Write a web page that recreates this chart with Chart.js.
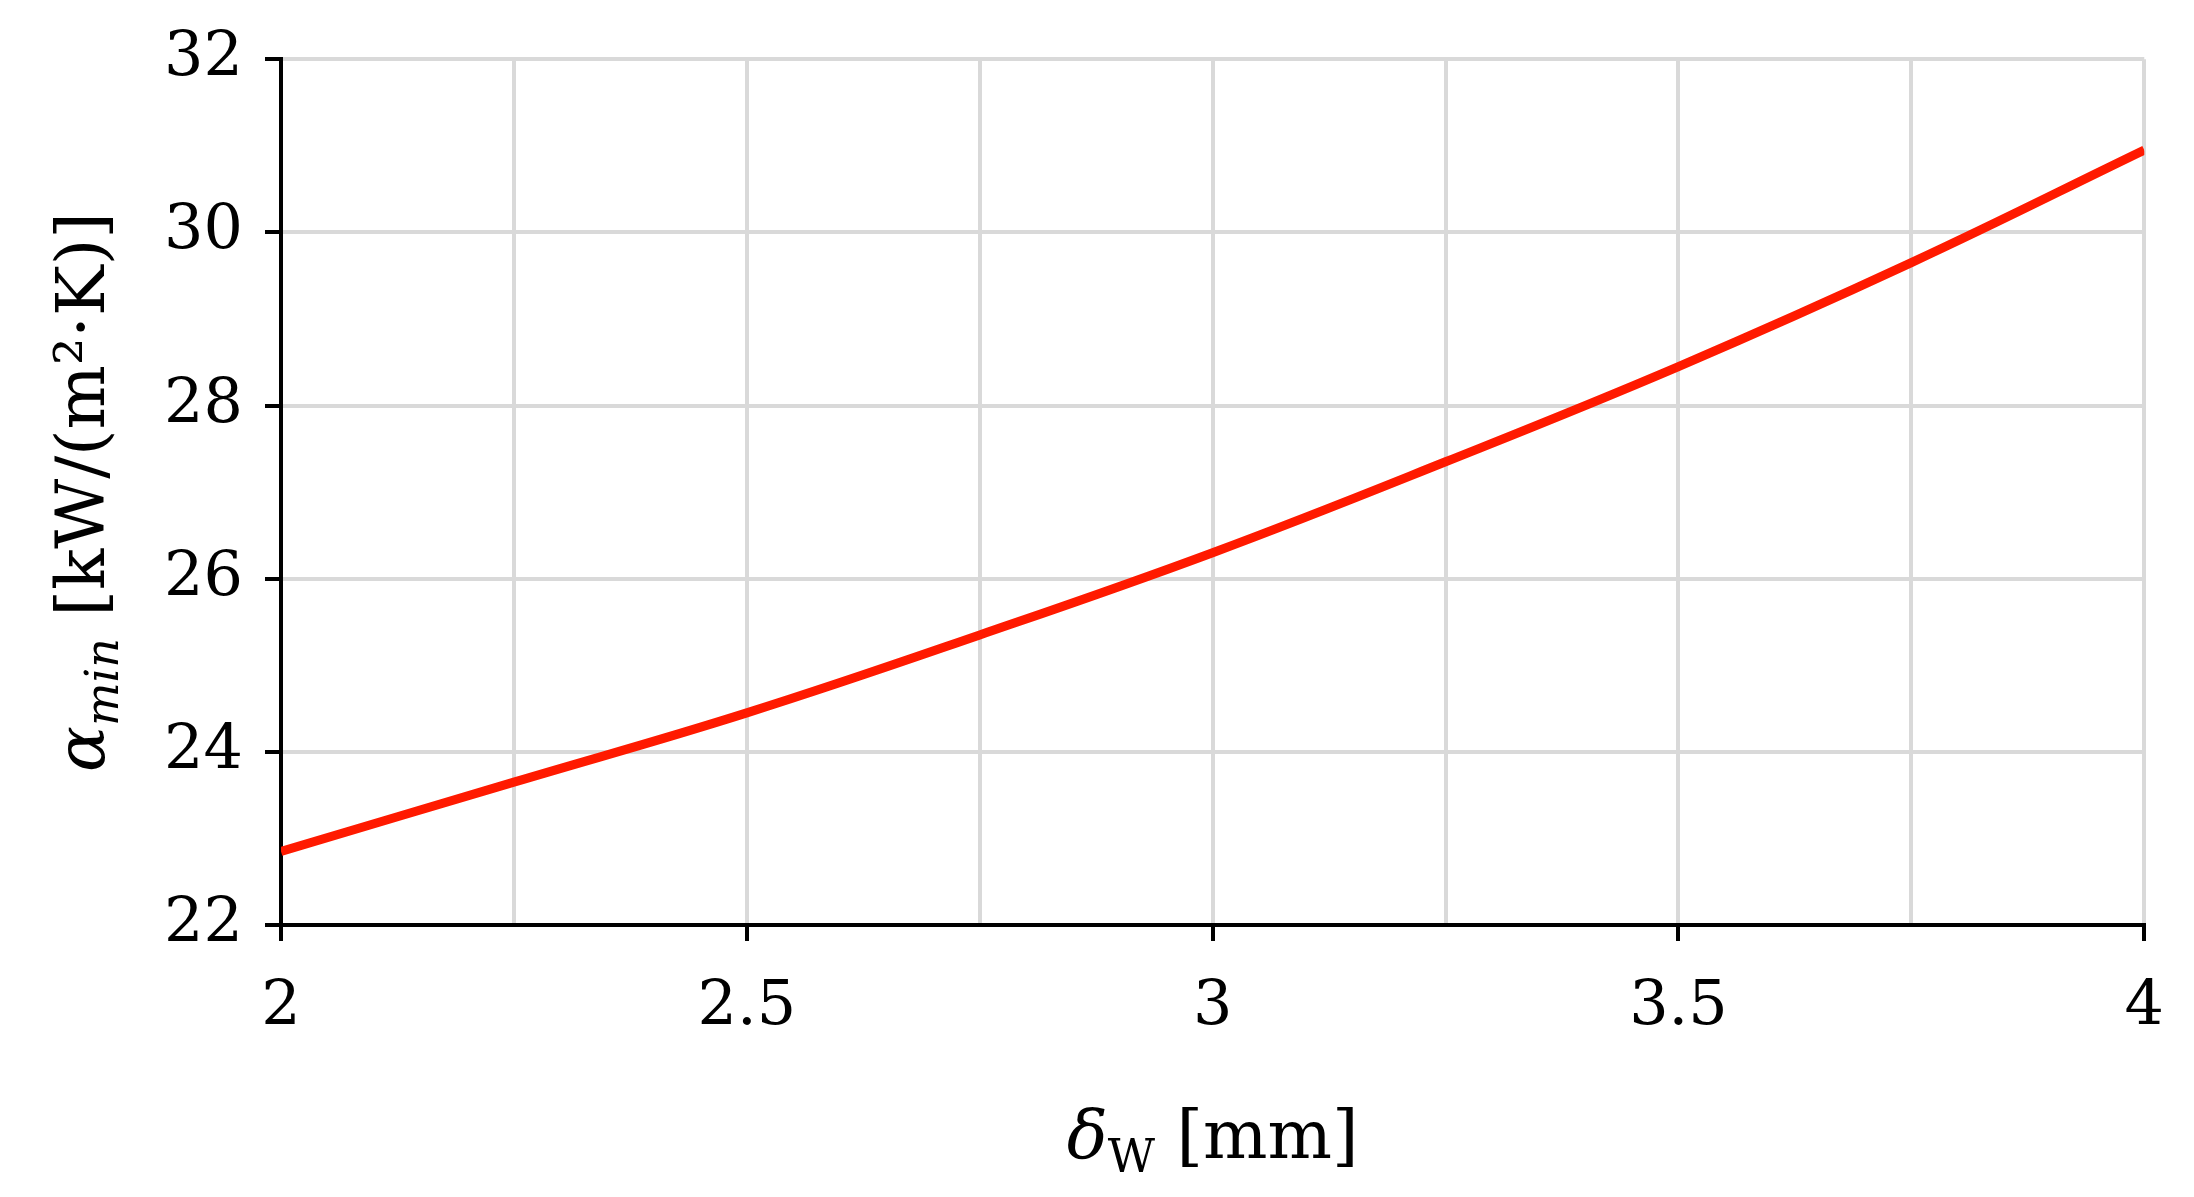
<!DOCTYPE html>
<html>
<head>
<meta charset="utf-8">
<script src="https://cdn.jsdelivr.net/npm/chart.js@4/dist/chart.umd.min.js"></script>
<style>
  html, body { margin: 0; padding: 0; background: #fff; }
  #wrap { width: 2194px; height: 1197px; }
</style>
</head>
<body>
<div id="wrap"><canvas id="c"></canvas></div>
<script>
// wall thickness [mm] vs minimum heat transfer coefficient [kW/(m2K)]
const thickness = [2, 2.25, 2.5, 2.75, 3, 3.25, 3.5, 3.75, 4];
const alphaMin = [22.85, 23.65, 24.45, 25.35, 26.3, 27.35, 28.45, 29.65, 30.95];
const xTicks = [2, 2.5, 3, 3.5, 4];

const FONT = '"DejaVu Serif", "Liberation Serif", serif';

// axis titles with italic/upright subscripts
const titles = {
    id: 'titles',
    afterDraw(chart) {
        const c = chart.ctx;
        const a = chart.chartArea;
        c.save();
        c.fillStyle = '#000';
        c.textBaseline = 'alphabetic';

        // x title: δW [mm]
        const xm = (a.left + a.right) / 2;
        const parts = [
            { t: 'δ', f: 'italic 68px ' + FONT, dy: 0 },
            { t: 'W', f: '46px ' + FONT, dy: 14 },
            { t: ' [mm]', f: '68px ' + FONT, dy: 0 }
        ];
        let w = 0;
        parts.forEach(p => { c.font = p.f; w += c.measureText(p.t).width; });
        let x = xm - w / 2;
        const y = 1158;
        parts.forEach(p => { c.font = p.f; c.fillText(p.t, x, y + p.dy); x += c.measureText(p.t).width; });

        // y title: αmin [kW/(m²·K)]
        const ym = (a.top + a.bottom) / 2;
        c.translate(84, ym);
        c.rotate(-Math.PI / 2);
        const yp = [
            { t: 'α', f: 'italic 68px ' + FONT, dy: 0 },
            { t: 'min', f: 'italic 46px ' + FONT, dy: 14 },
            { t: ' [kW/(m²·K)]', f: '68px ' + FONT, dy: 0 }
        ];
        w = 0;
        yp.forEach(p => { c.font = p.f; w += c.measureText(p.t).width; });
        x = -w / 2;
        yp.forEach(p => { c.font = p.f; c.fillText(p.t, x, 20 + p.dy); x += c.measureText(p.t).width; });
        c.restore();
    }
};

new Chart(document.getElementById('c'), {
    type: 'line',
    data: {
        datasets: [{
            data: thickness.map((t, i) => ({ x: t, y: alphaMin[i] })),
            borderColor: '#ff1a00',
            borderWidth: 9,
            pointRadius: 0,
            tension: 0.4,
            fill: false
        }]
    },
    options: {
        responsive: true,
        maintainAspectRatio: false,
        animation: false,
        layout: { padding: { top: 45, right: 31, left: 0, bottom: 0 } },
        plugins: { legend: { display: false }, tooltip: { enabled: false } },
        scales: {
            x: {
                type: 'linear',
                min: 2, max: 4,
                afterFit: s => { s.height = 272; },
                afterBuildTicks: s => {
                    s.ticks = [2, 2.25, 2.5, 2.75, 3, 3.25, 3.5, 3.75, 4].map(v => ({ value: v }));
                },
                grid: {
                    color: '#d9d9d9', lineWidth: 4, tickLength: 16,
                    tickColor: ctx => xTicks.includes(ctx.tick.value) ? '#000' : 'rgba(0,0,0,0)'
                },
                border: { color: '#000', width: 4 },
                ticks: {
                    color: '#000',
                    font: { family: FONT, size: 62 },
                    padding: 30,
                    maxRotation: 0,
                    autoSkip: false,
                    callback: v => xTicks.includes(v) ? String(v) : ''
                }
            },
            y: {
                min: 22, max: 32,
                afterFit: s => { s.width = 281; },
                grid: { color: '#d9d9d9', lineWidth: 4, tickColor: '#000', tickLength: 16 },
                border: { color: '#000', width: 4 },
                ticks: {
                    stepSize: 2,
                    color: '#000',
                    font: { family: FONT, size: 62 },
                    padding: 22
                }
            }
        }
    },
    plugins: [titles]
});
</script>
</body>
</html>
